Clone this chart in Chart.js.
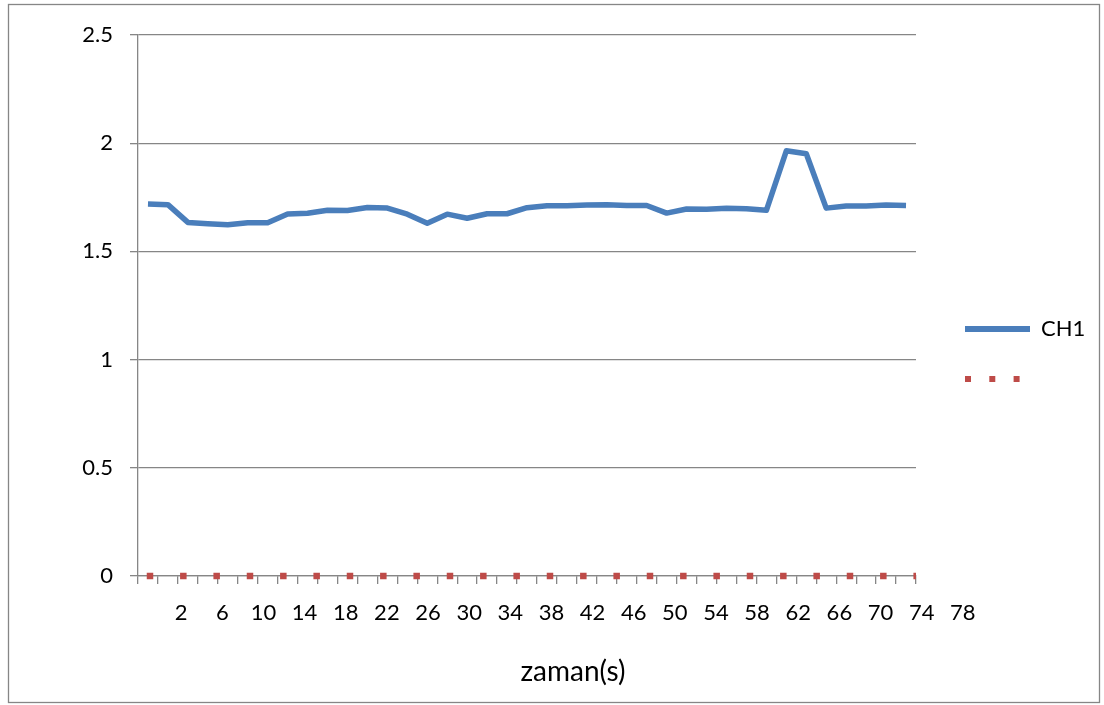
<!DOCTYPE html>
<html>
<head>
<meta charset="utf-8">
<script src="https://cdn.jsdelivr.net/npm/chart.js@4.4.1/dist/chart.umd.min.js"></script>
<style>
  html, body { margin: 0; padding: 0; background: #fff; }
  canvas { display: block; }
</style>
</head>
<body>
<canvas id="chart" width="1104" height="705"></canvas>
<script>
/* ======================
   DATA
====================== */
const seriesNames = ["CH1", ""];
// CH1 readings, one per time step
const ch1Values = [
  1.719, 1.716, 1.634, 1.628, 1.623, 1.632, 1.632, 1.673, 1.676, 1.690,
  1.689, 1.703, 1.700, 1.672, 1.630, 1.672, 1.653, 1.674, 1.674, 1.702,
  1.711, 1.711, 1.714, 1.716, 1.712, 1.712, 1.677, 1.696, 1.695, 1.699,
  1.697, 1.690, 1.965, 1.951, 1.700, 1.710, 1.710, 1.714, 1.712
];
// second (unnamed) series, all zero
const zeroValues = [
  0, 0, 0, 0, 0, 0, 0, 0, 0, 0, 0, 0,
  0, 0, 0, 0, 0, 0, 0, 0, 0, 0, 0, 0
];
const xTickLabels = [2, 6, 10, 14, 18, 22, 26, 30, 34, 38, 42, 46, 50, 54, 58, 62, 66, 70, 74, 78];
const yTicks = [0, 0.5, 1, 1.5, 2, 2.5];
const xTitle = "zaman(s)";

/* ======================
   STYLE
====================== */
const BLUE = "#4A7EBB";
const RED = "#BE4B48";
const GRAY = "#868686";
const FONT = "Lato";
const TICK_SIZE = 22;
const LEGEND_SIZE = 22;
const LEGEND_PAD = 28;
const LEGEND_LINE = 65;

// legend box keeps its natural size; pad the right so the plot ends at x=916
const measureCtx = document.createElement("canvas").getContext("2d");
measureCtx.font = `${LEGEND_SIZE}px ${FONT}`;
const legendTextW = Math.max(...seriesNames.map(s => measureCtx.measureText(s).width));
const legendW = LEGEND_PAD + LEGEND_LINE + LEGEND_SIZE / 2 + legendTextW + 10;
const rightPad = Math.max(0, 1104 - 937 - legendW);
// axis title is centred on the padded width, so shift it with the left pad
const leftPad = 1146 - 1104 + rightPad;

/* ======================
   PLUGINS
====================== */
// outer chart frame
const framePlugin = {
  id: "frame",
  beforeDraw(chart) {
    const ctx = chart.ctx;
    ctx.save();
    ctx.fillStyle = "#fff";
    ctx.fillRect(0, 0, chart.width, chart.height);
    ctx.strokeStyle = GRAY;
    ctx.lineWidth = 1.3;
    ctx.strokeRect(8.5, 4.5, 1091, 698);
    ctx.restore();
  }
};

// category labels sit on their own (wider) axis, like the original sheet
const xLabelPlugin = {
  id: "xLabels",
  afterDraw(chart) {
    const scale = chart.scales.xl;
    const ctx = chart.ctx;
    ctx.save();
    ctx.font = `${TICK_SIZE}px ${FONT}`;
    ctx.fillStyle = "#000";
    ctx.textAlign = "center";
    ctx.textBaseline = "middle";
    xTickLabels.forEach(v => {
      ctx.fillText(String(v), scale.getPixelForValue(v), 613);
    });
    ctx.restore();
  }
};

/* ======================
   CHART
====================== */
new Chart(document.getElementById("chart"), {
  type: "line",
  data: {
    datasets: [
      {
        label: seriesNames[0],
        data: ch1Values.map((v, i) => ({ x: i + 0.5, y: v })),
        borderColor: BLUE,
        backgroundColor: BLUE,
        borderWidth: 5.5,
        borderJoinStyle: "round",
        pointRadius: 0,
        tension: 0,
        xAxisID: "x",
        yAxisID: "y"
      },
      {
        label: seriesNames[1],
        data: zeroValues.map((v, i) => ({ x: i, y: v })),
        showLine: false,
        pointStyle: "rect",
        pointRadius: 4.6,
        pointBorderWidth: 0,
        backgroundColor: RED,
        borderColor: RED,
        clip: { left: 10, top: 10, right: 0, bottom: 10 },
        xAxisID: "x2",
        yAxisID: "y"
      }
    ]
  },
  options: {
    responsive: false,
    animation: false,
    devicePixelRatio: 1,
    layout: { padding: { top: 3, left: leftPad, right: rightPad, bottom: 0 } },
    plugins: {
      tooltip: { enabled: false },
      title: {
        display: true,
        position: "bottom",
        text: xTitle,
        color: "#000",
        font: { family: FONT, size: 28, weight: "normal", lineHeight: 1.2 },
        padding: { top: 10, bottom: 16.2 }
      },
      legend: {
        position: "right",
        align: "center",
        labels: {
          usePointStyle: true,
          pointStyleWidth: LEGEND_LINE,
          padding: LEGEND_PAD,
          color: "#000",
          font: { family: FONT, size: LEGEND_SIZE },
          generateLabels: chart => chart.data.datasets.map((ds, i) => ({
            text: ds.label,
            datasetIndex: i,
            pointStyle: "line",
            strokeStyle: i === 0 ? BLUE : RED,
            fillStyle: i === 0 ? BLUE : RED,
            lineWidth: 6,
            lineDash: i === 0 ? [] : [6, 18.3],
            lineCap: "butt",
            fontColor: "#000",
            hidden: false
          }))
        }
      }
    },
    scales: {
      x: {
        type: "linear",
        position: "bottom",
        min: 0,
        max: ch1Values.length,
        afterFit: s => { s.height = 69.2; },
        afterBuildTicks: s => {
          s.ticks = ch1Values.concat([0]).map((_, i) => ({ value: i }));
        },
        ticks: { display: false },
        grid: {
          drawOnChartArea: false,
          drawTicks: true,
          tickLength: 8,
          color: GRAY,
          lineWidth: 1.3
        },
        border: { color: GRAY, width: 1.3 }
      },
      xTop: {
        type: "linear",
        position: "top",
        afterFit: s => { s.height = 32; },
        ticks: { display: false },
        grid: { display: false },
        border: { display: false }
      },
      x2: {
        type: "linear",
        display: false,
        min: -0.36,
        max: 22.98
      },
      xl: {
        type: "linear",
        display: false,
        min: -2.2,
        max: 73.45
      },
      y: {
        type: "linear",
        position: "left",
        min: yTicks[0],
        max: yTicks[yTicks.length - 1],
        afterFit: s => { s.width = 138 - leftPad; },
        afterBuildTicks: s => { s.ticks = yTicks.map(v => ({ value: v })); },
        ticks: {
          color: "#000",
          padding: 17,
          font: { family: FONT, size: TICK_SIZE },
          callback: v => String(v)
        },
        grid: {
          color: GRAY,
          lineWidth: 1.3,
          tickLength: 8
        },
        border: { color: GRAY, width: 1.3 }
      },
      yR: {
        type: "linear",
        position: "right",
        afterFit: s => { s.width = 21; },
        ticks: { display: false },
        grid: { display: false },
        border: { display: false }
      }
    }
  },
  plugins: [framePlugin, xLabelPlugin]
});
</script>
</body>
</html>
